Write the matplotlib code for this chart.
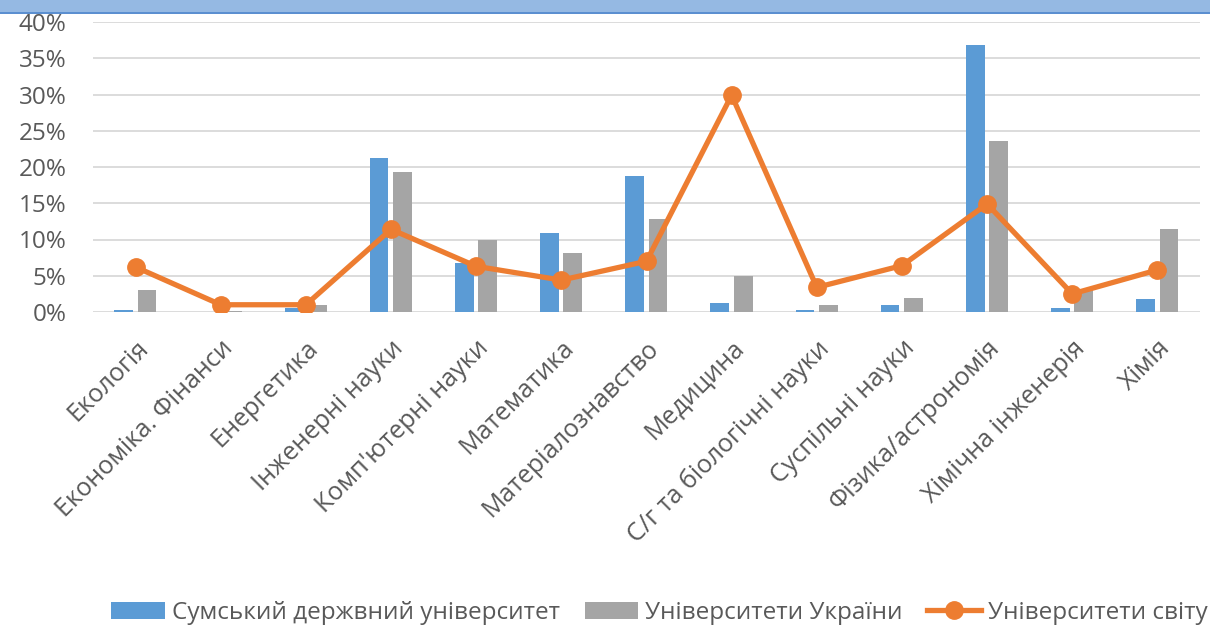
import matplotlib
matplotlib.use("Agg")
import matplotlib.pyplot as plt
from matplotlib.patches import Rectangle
from matplotlib.ticker import PercentFormatter
import numpy as np

CATEGORIES = ["Екологія", "Економіка. Фінанси", "Енергетика", "Інженерні науки",
              "Комп'ютерні науки", "Математика", "Матеріалознавство", "Медицина",
              "С/г та біологічні науки", "Суспільні науки", "Фізика/астрономія",
              "Хімічна інженерія", "Хімія"]
SUMDU = [0.3, 0.0, 0.5, 21.2, 6.7, 10.9, 18.7, 1.2, 0.3, 1.0, 36.8, 0.5, 1.8]
UKRAINE = [3.1, 0.2, 1.0, 19.3, 9.9, 8.1, 12.8, 4.9, 1.0, 1.9, 23.6, 3.0, 11.4]
WORLD = [6.2, 1.0, 1.0, 11.4, 6.3, 4.4, 7.0, 29.9, 3.4, 6.4, 14.9, 2.5, 5.8]
LABELS = ["Сумський держвний університет", "Університети України", "Університети світу"]

BLUE = "#5B9BD5"
GREY = "#A5A5A5"
ORANGE = "#ED7D31"
TEXT = "#595959"

plt.rcParams["font.family"] = ["Open Sans", "DejaVu Sans"]

fig = plt.figure(figsize=(12.1, 6.3), dpi=100)
ax = fig.add_axes([93 / 1210, 1 - 312 / 630, (1200 - 93) / 1210, (312 - 22) / 630])

x = np.arange(len(CATEGORIES))
W = 0.22
b1 = ax.bar(x - 0.14, SUMDU, width=W, color=BLUE, label=LABELS[0], zorder=2)
b2 = ax.bar(x + 0.135, UKRAINE, width=W, color=GREY, label=LABELS[1], zorder=2)
l1, = ax.plot(x, WORLD, color=ORANGE, lw=3.8, marker="o", ms=12.5, label=LABELS[2], zorder=3)

ax.set_xlim(-0.5, len(CATEGORIES) - 0.5)
ax.set_ylim(0, 40)
ax.set_yticks(range(0, 41, 5))
ax.yaxis.set_major_formatter(PercentFormatter(decimals=0))
ax.grid(axis="y", color="#D9D9D9", lw=1.3, zorder=0)
for s in ax.spines.values():
    s.set_visible(False)
ax.tick_params(axis="both", length=0, colors=TEXT)
ax.tick_params(axis="y", pad=19, labelsize=17.5)
ax.set_xticks(x)
ax.set_xticklabels(CATEGORIES, rotation=45, ha="right", va="top",
                   rotation_mode="anchor", fontsize=18.2, color=TEXT)
ax.tick_params(axis="x", pad=17)

# top border band
fig.patches.append(Rectangle((0, 1 - 12 / 630), 1, 12 / 630, transform=fig.transFigure,
                             facecolor="#95B9E3", edgecolor="none"))
fig.patches.append(Rectangle((0, 1 - 14 / 630), 1, 2.5 / 630, transform=fig.transFigure,
                             facecolor="#5B8FD0", edgecolor="none"))

fig.legend(handles=[b1, b2, l1], loc="center", bbox_to_anchor=(0.545, 1 - 613 / 630), ncol=3,
           frameon=False, labelcolor=TEXT, handlelength=2.2, handletextpad=0.3,
           columnspacing=1.0, prop={"size": 17.5})

fig.savefig("out.png", dpi=100)
